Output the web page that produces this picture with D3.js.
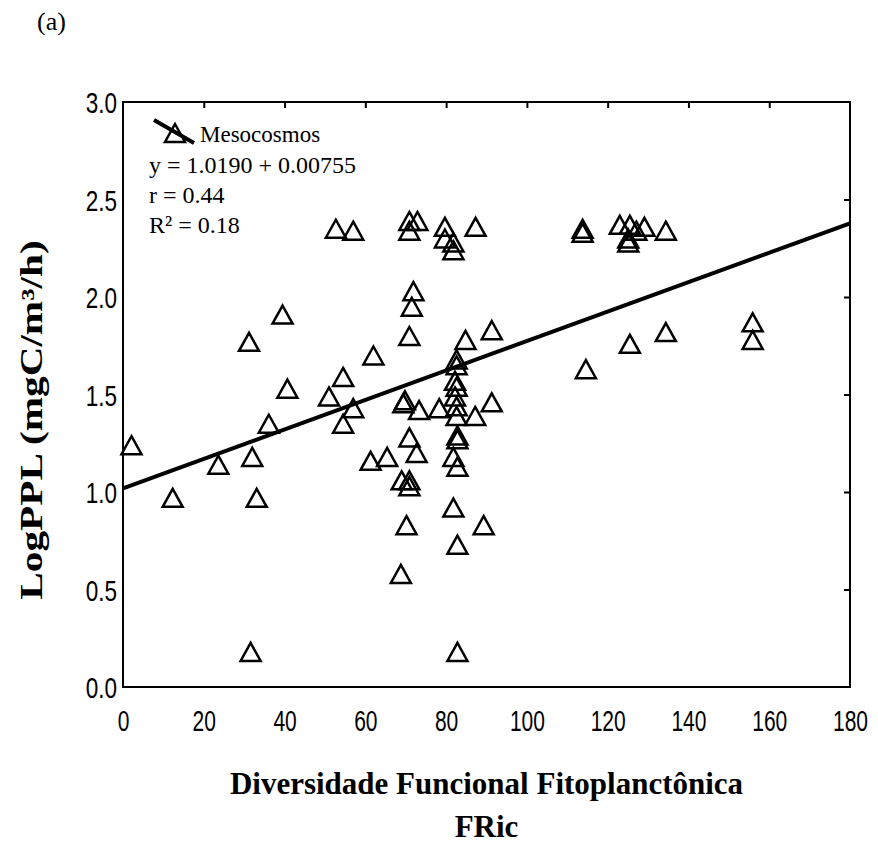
<!DOCTYPE html>
<html>
<head>
<meta charset="utf-8">
<script src="https://cdn.jsdelivr.net/npm/d3@7"></script>
<style>
  body { margin: 0; background: #fff; }
  svg { display: block; }
</style>
</head>
<body>
<div id="viz"></div>
<script>
// FRic vs LogPPL scatter, Mesocosmos

var width = 878, height = 843;

// data
var fric = [2.1, 12.3, 23.6, 31.2, 31.6, 32.0, 33.1, 36.1, 39.5, 40.7,
	51.0, 52.7, 54.5, 54.5, 57.0, 57.0, 61.3, 62.0, 65.4, 68.8,
	69.0, 69.4, 69.8, 70.2, 70.9, 70.9, 70.9, 70.9, 70.9, 70.9,
	71.5, 71.9, 72.7, 72.9, 73.3, 78.3, 79.7, 79.7, 81.8, 81.8,
	81.8, 81.8, 82.2, 82.2, 82.6, 82.6, 82.6, 82.6, 82.6, 82.8,
	82.8, 82.8, 82.8, 82.8, 84.8, 87.2, 87.3, 89.3, 91.3, 91.3,
	113.8, 113.8, 114.6, 123.0, 125.1, 125.1, 125.5, 125.5, 127.1, 129.1,
	134.4, 134.4, 155.9, 155.9];
var logppl = [1.24, 0.97, 1.14, 1.77, 0.18, 1.18, 0.97, 1.35, 1.91, 1.53,
	1.49, 2.35, 1.59, 1.35, 1.43, 2.34, 1.16, 1.70, 1.18, 0.58,
	1.06, 1.455, 1.47, 0.83, 1.80, 1.28, 1.06, 1.03, 2.39, 2.34,
	1.95, 2.03, 1.20, 2.39, 1.42, 1.43, 2.36, 2.30, 2.28, 2.24,
	1.18, 0.92, 1.57, 1.49, 1.68, 1.65, 1.54, 1.44, 1.39, 1.29,
	1.27, 1.13, 0.73, 0.18, 1.78, 1.39, 2.36, 0.83, 1.83, 1.46,
	2.35, 2.33, 1.63, 2.37, 2.30, 2.28, 2.37, 1.76, 2.34, 2.36,
	2.34, 1.82, 1.87, 1.78];
var xTicks = [0, 20, 40, 60, 80, 100, 120, 140, 160, 180];
var yTicks = [0.0, 0.5, 1.0, 1.5, 2.0, 2.5, 3.0];
var fitA = 1.0190, fitB = 0.00755;
var legendLines = ["y = 1.0190 + 0.00755", "r = 0.44", "R\u00b2 = 0.18"];

var plotL = 123, plotR = 850, plotT = 102, plotB = 687;

var x = d3.scaleLinear().domain([0, 180]).range([plotL, plotR]);
var y = d3.scaleLinear().domain([0, 3]).range([plotB, plotT]);

var serif = "'Liberation Serif', 'Times New Roman', serif";
var sans = "'Liberation Sans', Arial, sans-serif";

var svg = d3.select("#viz")
	.append("svg")
		.attr("width", width)
		.attr("height", height)
		.style("background", "#fff");

// panel letter
svg.append("text")
	.text("(a)")
	.attr("x", 37)
	.attr("y", 30)
	.style("font-family", serif)
	.style("font-size", "26px");

// x labels (narrow, tall digits)
var gx = svg.append("g")
	.attr("transform", "translate(0," + plotB + ")")
	.call(d3.axisBottom(x).tickValues(xTicks).tickSize(0).tickPadding(0).tickFormat(d3.format("d")));
gx.select(".domain").remove();
gx.selectAll("text")
	.attr("y", 0)
	.attr("dy", 0)
	.attr("transform", "translate(0,44) scale(0.7,1)")
	.style("font-family", sans)
	.style("font-size", "30px")
	.style("fill", "#000");

var gy = svg.append("g")
	.attr("transform", "translate(" + plotL + ",0)")
	.call(d3.axisLeft(y).tickValues(yTicks).tickSize(0).tickPadding(0).tickFormat(d3.format(".1f")));
gy.select(".domain").remove();
gy.selectAll("text")
	.attr("x", 0)
	.attr("dy", "0.36em")
	.attr("transform", "translate(-6,0) scale(0.75,1)")
	.style("font-family", sans)
	.style("font-size", "30px")
	.style("fill", "#000");

// inward ticks on top and right
var gt = svg.append("g")
	.attr("transform", "translate(0," + plotT + ")")
	.call(d3.axisBottom(x).tickValues(xTicks.slice(1, -1)).tickSize(6).tickFormat(""));
gt.select(".domain").remove();
gt.selectAll("line").attr("stroke", "#000").attr("stroke-width", 2);

var gr = svg.append("g")
	.attr("transform", "translate(" + plotR + ",0)")
	.call(d3.axisLeft(y).tickValues(yTicks.slice(1, -1)).tickSize(6).tickFormat(""));
gr.select(".domain").remove();
gr.selectAll("line").attr("stroke", "#000").attr("stroke-width", 2);

// frame
svg.append("rect")
	.attr("x", plotL)
	.attr("y", plotT)
	.attr("width", plotR - plotL)
	.attr("height", plotB - plotT)
	.attr("fill", "none")
	.attr("stroke", "#000")
	.attr("stroke-width", 2);

// regression line
svg.append("line")
	.attr("x1", x(0))
	.attr("y1", y(fitA))
	.attr("x2", x(180))
	.attr("y2", y(fitA + fitB * 180))
	.attr("stroke", "#000")
	.attr("stroke-width", 4);

var tri = "M0,-9L10,9L-10,9Z";

svg.selectAll("path.pt")
	.data(fric)
	.enter()
	.append("path")
		.attr("class", "pt")
		.attr("d", tri)
		.attr("transform", function (d, i) { return "translate(" + x(d) + "," + y(logppl[i]) + ")"; })
		.attr("fill", "none")
		.attr("stroke", "#000")
		.attr("stroke-width", 2.5);

// legend
svg.append("line")
	.attr("x1", 154).attr("y1", 120)
	.attr("x2", 194).attr("y2", 143)
	.attr("stroke", "#000")
	.attr("stroke-width", 4);
svg.append("path")
	.attr("d", tri)
	.attr("transform", "translate(175,133)")
	.attr("fill", "none")
	.attr("stroke", "#000")
	.attr("stroke-width", 2.5);
svg.append("text")
	.text("Mesocosmos")
	.attr("x", 200)
	.attr("y", 142)
	.style("font-family", serif)
	.style("font-size", "23px");
svg.selectAll("text.leg")
	.data(legendLines)
	.enter()
	.append("text")
		.attr("class", "leg")
		.text(function (d) { return d; })
		.attr("x", 149)
		.attr("y", function (d, i) { return 173 + i * 30; })
		.style("font-family", serif)
		.style("font-size", "24px");

// axis titles
svg.append("text")
	.text("LogPPL (mgC/m\u00b3/h)")
	.attr("transform", "translate(42,420) rotate(-90) scale(1.33,1)")
	.attr("text-anchor", "middle")
	.style("font-family", serif)
	.style("font-weight", "bold")
	.style("font-size", "31px");

svg.append("text")
	.text("Diversidade Funcional Fitoplanct\u00f4nica")
	.attr("x", (plotL + plotR) / 2)
	.attr("y", 794)
	.attr("text-anchor", "middle")
	.style("font-family", serif)
	.style("font-weight", "bold")
	.style("font-size", "31px");

svg.append("text")
	.text("FRic")
	.attr("x", (plotL + plotR) / 2)
	.attr("y", 837)
	.attr("text-anchor", "middle")
	.style("font-family", serif)
	.style("font-weight", "bold")
	.style("font-size", "31px");

// The End
</script>
</body>
</html>
